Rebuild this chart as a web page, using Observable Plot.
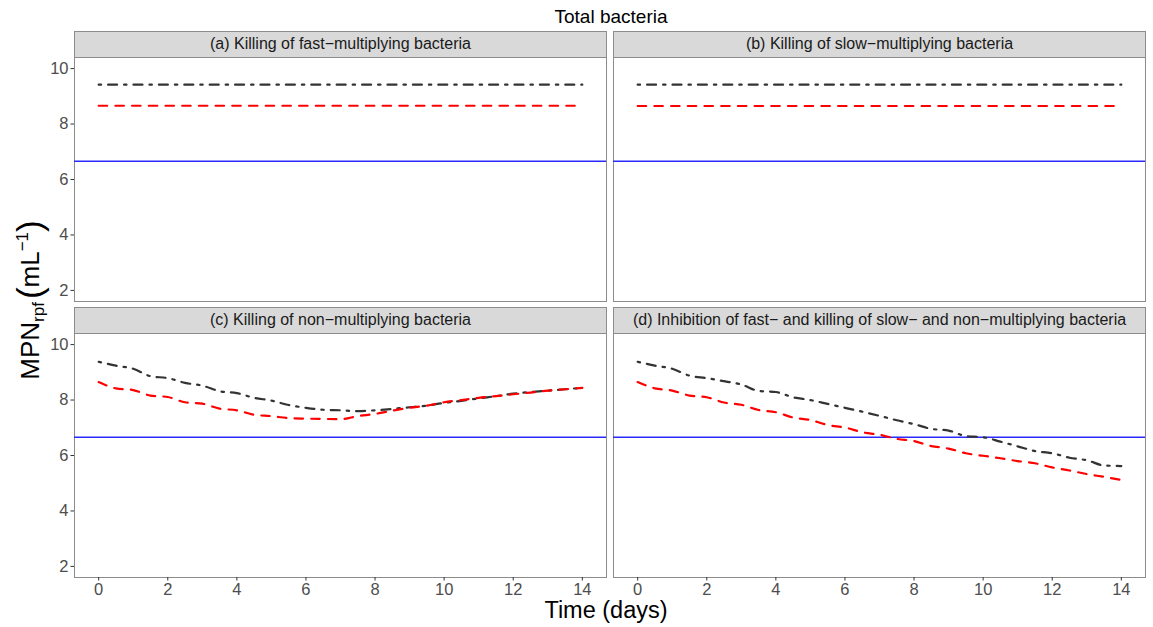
<!DOCTYPE html>
<html><head><meta charset="utf-8">
<script src="https://cdn.jsdelivr.net/npm/d3@7"></script>
<script src="https://cdn.jsdelivr.net/npm/@observablehq/plot@0.6"></script>
<style>
body{margin:0;background:#fff;font-family:"Liberation Sans",Arial,sans-serif;}
#root{position:relative;width:1153px;height:627px;overflow:hidden;background:#fff;}
.strip{position:absolute;box-sizing:border-box;background:#d9d9d9;border:1px solid #8c8c8c;border-bottom:1px solid #444;font-size:16px;color:#1a1a1a;text-align:center;line-height:24px;white-space:nowrap;}
.panel{position:absolute;}
.ttl{position:absolute;white-space:nowrap;color:#000;}
</style></head><body><div id="root"></div>
<script>
// ---- data ----
const chartTitle = "Total bacteria";
const xTitle = "Time (days)";
const panelTitles = [
  "(a) Killing of fast\u2212multiplying bacteria",
  "(b) Killing of slow\u2212multiplying bacteria",
  "(c) Killing of non\u2212multiplying bacteria",
  "(d) Inhibition of fast\u2212 and killing of slow\u2212 and non\u2212multiplying bacteria"
];
const xTicks = [0, 2, 4, 6, 8, 10, 12, 14];
const yTicks = [2, 4, 6, 8, 10];
const threshold = 6.66;

const daysFlat = [0, 14];
const dashdotA = [9.42, 9.42];
const dashedA  = [8.66, 8.66];
const dashdotB = [9.42, 9.42];
const dashedB  = [8.65, 8.65];

const days = [0,0.5,1,1.5,2,2.5,3,3.5,4,4.5,5,5.5,6,6.5,7,7.5,8,8.5,9,9.5,10,10.5,11,11.5,12,12.5,13,13.5,14];
const dashdotC = [9.38,9.24,9.13,8.86,8.79,8.62,8.52,8.32,8.25,8.08,7.98,7.82,7.72,7.65,7.63,7.60,7.63,7.68,7.74,7.80,7.90,7.97,8.06,8.14,8.23,8.29,8.34,8.39,8.44];
const dashedC  = [8.65,8.42,8.36,8.16,8.11,7.92,7.87,7.69,7.63,7.47,7.42,7.35,7.33,7.32,7.31,7.42,7.50,7.62,7.72,7.80,7.92,8.00,8.08,8.14,8.21,8.27,8.34,8.39,8.44];
const dashdotD = [9.38,9.24,9.13,8.88,8.79,8.68,8.56,8.33,8.29,8.10,8.00,7.86,7.72,7.58,7.43,7.27,7.13,6.96,6.90,6.70,6.66,6.50,6.33,6.16,6.08,5.92,5.83,5.64,5.62];
const dashedD  = [8.65,8.42,8.34,8.16,8.10,7.91,7.83,7.64,7.56,7.37,7.28,7.10,7.01,6.84,6.75,6.60,6.52,6.34,6.25,6.08,5.99,5.90,5.80,5.72,5.57,5.46,5.33,5.23,5.12];

// ---- layout ----
const rows = (ts, vs) => ts.map((t, i) => ({t, v: vs[i]}));
const panels = [
  {title: panelTitles[0], dd: rows(daysFlat, dashdotA), dr: rows(daysFlat, dashedA), col: 0, row: 0},
  {title: panelTitles[1], dd: rows(daysFlat, dashdotB), dr: rows(daysFlat, dashedB), col: 1, row: 0},
  {title: panelTitles[2], dd: rows(days, dashdotC), dr: rows(days, dashedC), col: 0, row: 1},
  {title: panelTitles[3], dd: rows(days, dashdotD), dr: rows(days, dashedD), col: 1, row: 1}
];
const cols = [{x0: 74, x1: 606}, {x0: 613, x1: 1145}];
const rws = [{s0: 31, y0: 57, y1: 301}, {s0: 307, y0: 333, y1: 577}];
const root = document.getElementById("root");
const AX = 30;

for (const p of panels) {
  const c = cols[p.col], r = rws[p.row];
  const leftAxis = p.col === 0, bottomAxis = p.row === 1;
  const strip = document.createElement("div");
  strip.className = "strip";
  strip.style.left = c.x0 + "px";
  strip.style.top = r.s0 + "px";
  strip.style.width = (c.x1 - c.x0 + 1) + "px";
  strip.style.height = (r.y0 - r.s0 + 1) + "px";
  strip.textContent = p.title;
  root.appendChild(strip);

  const left = leftAxis ? 0 : c.x0 - 1;
  const marginLeft = c.x0 - left;
  const width = c.x1 + 1 - left;
  const top = r.y0 - 1;
  const marginBottom = 1 + (bottomAxis ? AX : 0);
  const height = (r.y1 - r.y0) + 2 + (bottomAxis ? AX : 0);
  const marks = [
    Plot.frame({stroke: "#8c8c8c"}),
    Plot.ruleY([threshold], {stroke: "#2a2aff", strokeWidth: 1.4}),
    Plot.line(p.dd, {x: "t", y: "v", stroke: "#333333", strokeWidth: 2.2, strokeDasharray: "2.4,7,9,7", curve: "monotone-x"}),
    Plot.line(p.dr, {x: "t", y: "v", stroke: "#ff0000", strokeWidth: 2.2, strokeDasharray: "8.5,8.2", curve: "monotone-x"})
  ];
  if (leftAxis) marks.push(Plot.axisY(yTicks, {tickSize: 3.5, tickPadding: 2.5, label: null, stroke: "#333"}));
  if (bottomAxis) marks.push(Plot.axisX(xTicks, {tickSize: 3.5, tickPadding: 2.5, label: null, stroke: "#333"}));
  const svg = Plot.plot({
    width, height,
    marginLeft, marginRight: 1, marginTop: 1, marginBottom,
    x: {domain: [-0.7, 14.7], axis: bottomAxis ? undefined : null},
    y: {domain: [1.6, 10.4], axis: leftAxis ? undefined : null},
    style: {fontSize: "16.5px", fontFamily: "'Liberation Sans', Arial, sans-serif", color: "#4d4d4d", background: "transparent", overflow: "visible"},
    marks
  });
  svg.classList.add("panel");
  svg.style.position = "absolute";
  svg.style.left = left + "px";
  svg.style.top = top + "px";
  root.appendChild(svg);
}

const t = document.createElement("div");
t.className = "ttl";
t.style.cssText += "left:611px;top:17px;transform:translate(-50%,-50%);font-size:19px;";
t.textContent = chartTitle;
root.appendChild(t);

const xt = document.createElement("div");
xt.className = "ttl";
xt.style.cssText += "left:606px;top:610px;transform:translate(-50%,-50%);font-size:23.5px;";
xt.textContent = xTitle;
root.appendChild(xt);

const yt = document.createElement("div");
yt.className = "ttl";
yt.style.cssText += "left:30px;top:300px;transform:translate(-50%,-50%) rotate(-90deg);font-size:26px;";
yt.innerHTML = 'MPN<sub style="font-size:17px;vertical-align:-5px;">rpf</sub><span style="font-size:35px;vertical-align:-3px;margin-left:3px;">(</span>mL<sup style="font-size:17px;vertical-align:11px;">\u22121</sup><span style="font-size:35px;vertical-align:-3px;">)</span>';
root.appendChild(yt);
</script>
</body></html>
